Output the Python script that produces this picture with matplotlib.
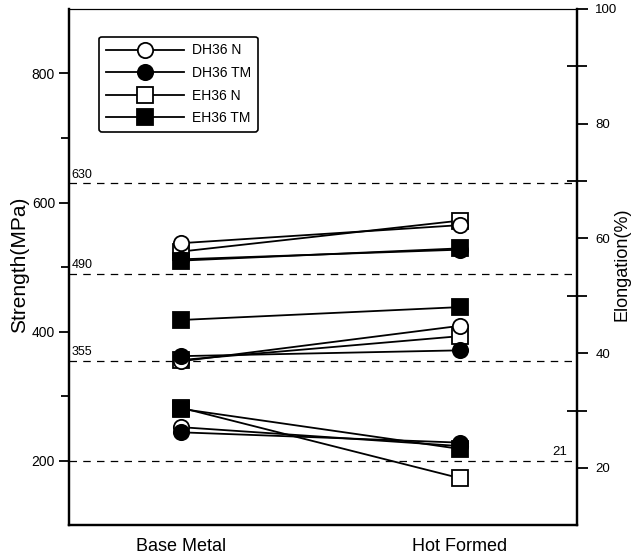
import matplotlib.pyplot as plt
from matplotlib.ticker import FixedLocator

plt.rcParams['font.family'] = ['Liberation Sans', 'DejaVu Sans']

conditions = ['Base Metal', 'Hot Formed']
series = ['DH36 N', 'DH36 TM', 'EH36 N', 'EH36 TM']
markers = ['o', 'o', 's', 's']
faces = ['white', 'black', 'white', 'black']
layer = [3.2, 4.2, 3.0, 4.0]

# tensile strength and yield strength (MPa), elongation (%)
tensile = [[537, 565], [512, 527], [524, 572], [510, 529]]
yield_s = [[354, 409], [362, 371], [356, 393], [418, 438]]
elong = [[27.1, 23.8], [26.2, 24.4], [30.5, 18.2], [30.3, 23.3]]

ref_strength = [630, 490, 355, 200]
ref_text = ['630', '490', '355']

x = [1, 2]

fig = plt.figure(figsize=(6.33, 5.57), dpi=100)
ax = fig.add_axes([0.109, 0.057, 0.803, 0.927])
ax2 = ax.twinx()

for yv in ref_strength:
    ax.axhline(yv, color='black', lw=0.9, ls=(0, (6, 5)), zorder=1)
for yv, t in zip(ref_strength, ref_text):
    ax.text(0.61, yv + 4, t, fontsize=9, ha='left', va='bottom')
ax.text(2.33, 204, '21', fontsize=9.5, ha='left', va='bottom')

handles = []
for i in range(4):
    kw = dict(marker=markers[i], ms=11, mfc=faces[i], mec='black', mew=1.3,
              color='black', lw=1.3, zorder=layer[i])
    h, = ax.plot(x, tensile[i], **kw)
    ax.plot(x, yield_s[i], **kw)
    ax2.plot(x, elong[i], **kw)
    handles.append(h)

ax.set_xlim(0.6, 2.42)
ax.set_ylim(100, 900)
ax2.set_ylim(10, 100)

ax.set_xticks(x)
ax.set_xticklabels(conditions, fontsize=13)
ax.tick_params(axis='x', length=0, pad=9)

ax.yaxis.set_major_locator(FixedLocator([200, 400, 600, 800]))
ax.yaxis.set_minor_locator(FixedLocator([300, 500, 700]))
ax.tick_params(axis='y', which='major', direction='out', length=7, width=1.3,
               labelsize=10, pad=3)
ax.tick_params(axis='y', which='minor', direction='out', length=6, width=1.3)

ax2.yaxis.set_major_locator(FixedLocator([20, 40, 60, 80, 100]))
ax2.yaxis.set_minor_locator(FixedLocator([30, 50, 70, 90]))
ax2.tick_params(axis='y', which='major', direction='out', length=8, width=1.3,
                labelsize=9.5, pad=5)
ax2.tick_params(axis='y', which='minor', direction='inout', length=14, width=1.3)

for a in (ax, ax2):
    for s in ('left', 'right', 'bottom'):
        a.spines[s].set_linewidth(1.6)
    a.spines['top'].set_linewidth(0.8)

fig.text(20 / 633, 1 - 265 / 557, 'Strength(MPa)', rotation=90, fontsize=15,
         ha='center', va='center')
fig.text(622 / 633, 1 - 264 / 557, 'Elongation(%)', rotation=90, fontsize=13,
         ha='center', va='center')

leg = ax2.legend(handles, series, loc='upper left', bbox_to_anchor=(0.045, 0.96),
                 fontsize=10, handlelength=5.6, handletextpad=0.6, labelspacing=0.62,
                 numpoints=1, frameon=True, fancybox=True, borderpad=0.5)
leg.get_frame().set_edgecolor('black')
leg.get_frame().set_linewidth(1.2)
leg.get_frame().set_alpha(1)

fig.savefig('out.png', dpi=100)
